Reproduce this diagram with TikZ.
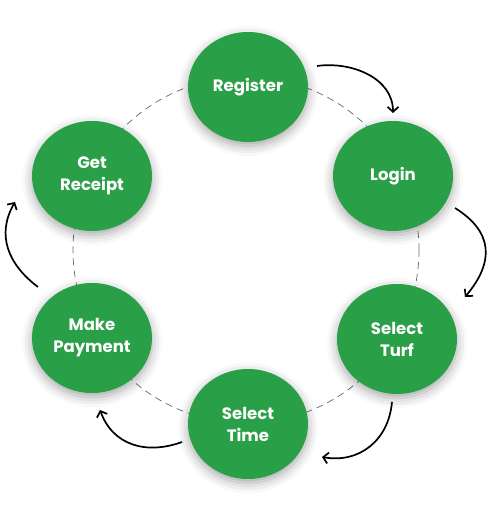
\documentclass[tikz,border=0pt]{standalone}
\usepackage{fontspec}
\setmainfont{Poppins}
\usetikzlibrary{shapes.geometric,arrows.meta,shadows.blur,calc}
\definecolor{stepgreen}{HTML}{29A047}
\definecolor{ringgray}{HTML}{666666}
\begin{document}
\begin{tikzpicture}[x=1pt,y=1pt,
  stepnode/.style={ellipse, fill=stepgreen, minimum width=120pt, minimum height=110pt,
    inner sep=0pt, text=white, align=center,
    font=\fontsize{16.5}{22}\selectfont\bfseries,
    blur shadow={shadow xshift=0pt, shadow yshift=-4pt, shadow blur radius=10pt, shadow opacity=35}},
  flow/.style={line width=1.7pt, -{Straight Barb[length=5pt,width=11pt]}},
  ring/.style={ringgray, line width=0.7pt, dash pattern=on 7pt off 5pt}]
\useasboundingbox (0,0) rectangle (489,512);
\coordinate (mid) at (246,262);
\draw[ring] (mid) circle[radius=173pt];
\node[stepnode] (reg)   at (248,425) {Register};
\node[stepnode] (login) at (393,336) {Login};
\node[stepnode] (turf)  at (397,173) {Select\\Turf};
\node[stepnode] (time)  at (248,88)  {Select\\Time};
\node[stepnode] (pay)   at (92,174)  {Make\\Payment};
\node[stepnode] (rec)   at (92,336)  {Get\\Receipt};
\draw[flow] ($(reg)+(69,21)$) to[out=8,in=90] ($(login)+(0,63)$);
\draw[flow] ($(login)+(62,-32)$) to[out=-32,in=50,looseness=1.3] ($(turf)+(68,42)$);
\draw[flow] ($(turf)+(-5,-63)$) to[out=-95,in=-10,looseness=1.1] ($(time)+(74,-33)$);
\draw[flow] ($(time)+(-66,-18)$) to[out=200,in=-70,looseness=1.1] ($(pay)+(8,-72)$);
\draw[flow] ($(pay)+(-54,51)$) to[out=143,in=-120,looseness=1.1] ($(rec)+(-77,-26)$);
\end{tikzpicture}
\end{document}
